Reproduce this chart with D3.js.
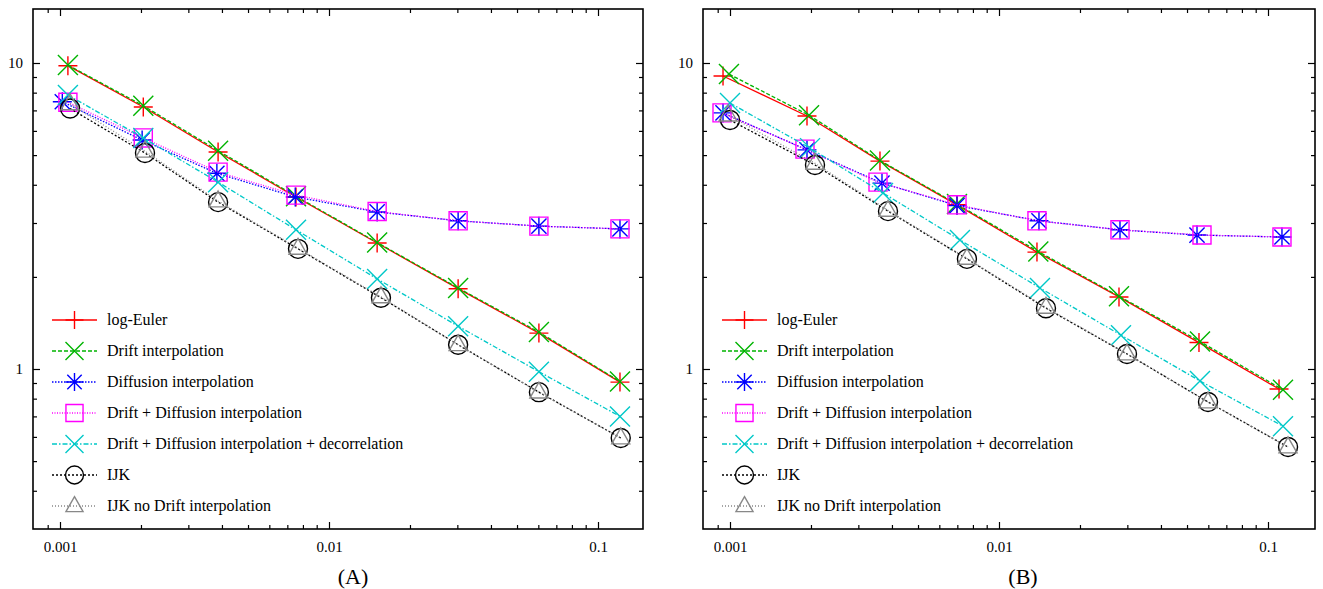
<!DOCTYPE html>
<html>
<head>
<meta charset="utf-8" />
<title>Strong error vs step size</title>
<script src="https://d3js.org/d3.v7.min.js"></script>
<style>
  body { margin: 0; background: #fff; }
</style>
</head>
<body>
<div id="chart"></div>
<script>
// legend entries, in drawing order
const names = ["log-Euler", "Drift interpolation", "Diffusion interpolation",
  "Drift + Diffusion interpolation", "Drift + Diffusion interpolation + decorrelation",
  "IJK", "IJK no Drift interpolation"];

// tick values / labels
const xMajor = [0.001, 0.01, 0.1];
const xLabels = ["0.001", "0.01", "0.1"];
const yMajor = [1, 10];
const yLabels = ["1", "10"];
const panelLabels = ["(A)", "(B)"];

// ---- panel A ----
const aX = [0.00107, 0.00204, 0.00387, 0.00754, 0.0151, 0.0302, 0.0603, 0.1207];
const aXDiff = [0.00102, 0.00202, 0.00383, 0.00749, 0.0151, 0.0302, 0.0603, 0.1207];
const aXIJK = [0.00109, 0.00207, 0.00387, 0.00767, 0.0156, 0.0302, 0.0603, 0.1215];
const aLogEuler = [9.8, 7.18, 5.12, 3.65, 2.58, 1.83, 1.31, 0.906];
const aDrift = [9.85, 7.25, 5.17, 3.67, 2.59, 1.84, 1.32, 0.91];
const aDiff = [7.47, 5.6, 4.36, 3.65, 3.26, 3.05, 2.93, 2.87];
const aDriftDiff = [7.44, 5.69, 4.4, 3.7, 3.27, 3.05, 2.93, 2.87];
const aDecorr = [7.86, 5.69, 4.08, 2.85, 1.97, 1.38, 0.98, 0.7];
const aIJK = [7.1, 5.08, 3.51, 2.47, 1.71, 1.2, 0.84, 0.595];
const aIJKnoDrift = [7.35, 5.15, 3.54, 2.48, 1.72, 1.2, 0.84, 0.595];

// ---- panel B ----
const bXLogEuler = [0.000942, 0.001933, 0.00361, 0.00698, 0.01384, 0.02793, 0.05539, 0.1099];
const bXDrift = [0.000991, 0.001967, 0.00361, 0.00698, 0.014, 0.02793, 0.05587, 0.1137];
const bXDiff = [0.000942, 0.001933, 0.003673, 0.00698, 0.01408, 0.02817, 0.05446, 0.1127];
const bXDriftDiff = [0.000934, 0.0019, 0.00355, 0.00698, 0.01384, 0.02817, 0.05683, 0.1127];
const bXDecorr = [0.001, 0.001984, 0.003705, 0.00716, 0.0142, 0.02841, 0.05587, 0.1137];
const bXIJK = [0.001, 0.00207, 0.003867, 0.0076, 0.01495, 0.02991, 0.05984, 0.1187];
const bXIJKnoDrift = [0.000983, 0.00207, 0.003867, 0.0076, 0.01495, 0.02991, 0.05984, 0.1187];
const bLogEuler = [9.07, 6.71, 4.78, 3.44, 2.41, 1.72, 1.22, 0.86];
const bDrift = [9.2, 6.75, 4.8, 3.46, 2.42, 1.73, 1.23, 0.855];
const bDiff = [6.87, 5.2, 4.05, 3.42, 3.05, 2.85, 2.74, 2.7];
const bDriftDiff = [6.87, 5.23, 4.08, 3.44, 3.05, 2.85, 2.74, 2.7];
const bDecorr = [7.4, 5.27, 3.76, 2.64, 1.84, 1.29, 0.914, 0.65];
const bIJK = [6.51, 4.64, 3.28, 2.29, 1.58, 1.12, 0.78, 0.556];
const bIJKnoDrift = [6.76, 4.7, 3.3, 2.3, 1.59, 1.12, 0.78, 0.556];

// styles
const colors = ["#ff0000", "#00b400", "#0000ff", "#ff00ff", "#00c8c8", "#000000", "#888888"];
const dashes = [null, "4,2", "1.5,1.5", "1,1.5", "5,2,1.5,2", "2,2", "1,2"];
const shapes = ["plus", "cross", "star", "square", "cross", "circle", "triangle"];
const serif = "'Liberation Serif', 'DejaVu Serif', serif";

const panels = [
  { xs: [aX, aX, aXDiff, aX, aX, aXIJK, aXIJK],
    ys: [aLogEuler, aDrift, aDiff, aDriftDiff, aDecorr, aIJK, aIJKnoDrift] },
  { xs: [bXLogEuler, bXDrift, bXDiff, bXDriftDiff, bXDecorr, bXIJK, bXIJKnoDrift],
    ys: [bLogEuler, bDrift, bDiff, bDriftDiff, bDecorr, bIJK, bIJKnoDrift] }
];

const width = 1323, height = 589;
const frames = [{ left: 33, right: 643, mid: 353 }, { left: 703, right: 1315, mid: 1023 }];
const frameTop = 9, frameBottom = 529;

const svg = d3.select("#chart").append("svg")
  .attr("width", width).attr("height", height)
  .attr("font-family", serif)
  .style("background", "#fff");

const y = d3.scaleLog().domain([1, 10]).range([369, 63]);

function minorTicks(lo, hi) {
  const out = [];
  for (let e = Math.floor(Math.log10(lo)); e <= Math.ceil(Math.log10(hi)); e++) {
    for (let k = 2; k <= 9; k++) {
      const v = k * Math.pow(10, e);
      if (v > lo * 1.01 && v < hi / 1.01) out.push(v);
    }
  }
  return out;
}

function markerPath(type, s) {
  const p = d3.path();
  if (type === "plus" || type === "star") {
    p.moveTo(-s, 0); p.lineTo(s, 0); p.moveTo(0, -s); p.lineTo(0, s);
  }
  if (type === "cross" || type === "star") {
    const c = type === "star" ? s * 0.8 : s;
    p.moveTo(-c, -c); p.lineTo(c, c); p.moveTo(-c, c); p.lineTo(c, -c);
  }
  if (type === "square") p.rect(-s * 0.95, -s * 0.95, s * 1.9, s * 1.9);
  if (type === "circle") { p.moveTo(s, 0); p.arc(0, 0, s, 0, 2 * Math.PI); }
  if (type === "triangle") {
    p.moveTo(0, -s * 1.05); p.lineTo(s * 0.95, s * 0.62); p.lineTo(-s * 0.95, s * 0.62); p.closePath();
  }
  return p.toString();
}
const markSize = [9.5, 10, 9.5, 9.5, 10, 9.5, 9.5];

panels.forEach((panel, pi) => {
  const f = frames[pi];
  const x = d3.scaleLog().domain([0.001, 0.1]).range([f.left + 27, f.left + 565]);
  const g = svg.append("g");

  const xMinor = minorTicks(x.invert(f.left), x.invert(f.right));
  const yMinor = minorTicks(y.invert(frameBottom), y.invert(frameTop));

  const axis = (gen, tr, vals, size, labels, pad) => {
    const a = gen.tickValues(vals).tickSize(-size).tickSizeOuter(0).tickPadding(pad || 3)
      .tickFormat(labels ? (d, i) => labels[i] : "");
    const ag = g.append("g").attr("transform", tr).call(a);
    ag.select(".domain").remove();
    ag.selectAll("line").attr("stroke", "#000").attr("stroke-width", 1.2);
    ag.attr("font-family", serif).attr("font-size", 15);
    ag.selectAll("text").attr("fill", "#000");
    return ag;
  };

  // inward ticks on all four sides
  axis(d3.axisBottom(x), `translate(0,${frameBottom})`, xMajor, 7, xLabels, 12);
  axis(d3.axisBottom(x), `translate(0,${frameBottom})`, xMinor, 4);
  axis(d3.axisTop(x), `translate(0,${frameTop})`, xMajor, 7);
  axis(d3.axisTop(x), `translate(0,${frameTop})`, xMinor, 4);
  axis(d3.axisLeft(y), `translate(${f.left},0)`, yMajor, 7, yLabels, 10)
    .selectAll("text").attr("x", -10);
  axis(d3.axisLeft(y), `translate(${f.left},0)`, yMinor, 4);
  axis(d3.axisRight(y), `translate(${f.right},0)`, yMajor, 7);
  axis(d3.axisRight(y), `translate(${f.right},0)`, yMinor, 4);

  // series
  panel.ys.forEach((ys, si) => {
    const pts = d3.zip(panel.xs[si], ys);
    g.append("path")
      .datum(pts)
      .attr("d", d3.line().x(d => x(d[0])).y(d => y(d[1])))
      .attr("fill", "none")
      .attr("stroke", colors[si])
      .attr("stroke-width", 1.3)
      .attr("stroke-dasharray", dashes[si]);
    g.append("g").selectAll("path")
      .data(pts)
      .join("path")
      .attr("transform", d => `translate(${x(d[0])},${y(d[1])})`)
      .attr("d", markerPath(shapes[si], markSize[si]))
      .attr("fill", "none")
      .attr("stroke", colors[si])
      .attr("stroke-width", 1.4);
  });

  // legend
  const lg = g.append("g").attr("transform", `translate(${f.left},${frameTop})`);
  names.forEach((n, si) => {
    const ly = 311 + si * 31;
    lg.append("line")
      .attr("x1", 19).attr("x2", 64).attr("y1", ly).attr("y2", ly)
      .attr("stroke", colors[si]).attr("stroke-width", 1.3)
      .attr("stroke-dasharray", dashes[si]);
    lg.append("path")
      .attr("transform", `translate(41.5,${ly})`)
      .attr("d", markerPath(shapes[si], 9))
      .attr("fill", "none").attr("stroke", colors[si]).attr("stroke-width", 1.4);
    lg.append("text")
      .attr("x", 74).attr("y", ly).attr("dy", "0.33em")
      .attr("font-family", serif)
      .attr("font-size", 16)
      .text(n);
  });

  // frame
  g.append("rect")
    .attr("x", f.left).attr("y", frameTop)
    .attr("width", f.right - f.left).attr("height", frameBottom - frameTop)
    .attr("fill", "none").attr("stroke", "#000").attr("stroke-width", 1.6);

  svg.append("text")
    .attr("x", f.mid).attr("y", 584)
    .attr("text-anchor", "middle")
    .attr("font-family", serif)
    .attr("font-size", 22)
    .text(panelLabels[pi]);
});
</script>
</body>
</html>
